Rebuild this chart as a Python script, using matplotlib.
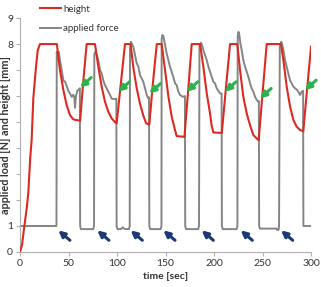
import matplotlib
matplotlib.use('Agg')
import matplotlib.pyplot as plt

plt.rcParams['font.family'] = ['Lato', 'DejaVu Sans']

# height curve [mm]
height_t = [0, 2, 4.5, 7, 8.6, 10.5, 12, 13.7, 16.2, 18.2, 20.6, 38,
            41.2, 44.7, 48.1, 51.5, 55, 62, 65.3, 68.7, 77.3,
            80.7, 84.2, 87.6, 91, 94.5, 97.9, 99.6, 104, 108.2, 114,
            116.8, 120.3, 123.7, 127.1, 130, 133.3, 137, 141, 146,
            149.5, 153, 156.4, 159.8, 161.5, 169.5, 173.5, 177, 185.6,
            189, 192.5, 195.9, 197.6, 199.3, 208, 212, 216.5, 224,
            226.8, 230.2, 233.7, 237.1, 240.5, 244, 246, 250, 254.3, 269,
            271.5, 274.9, 278.4, 281.8, 285.2, 288.7, 292, 296, 300]
height_v = [0, 0.25, 1.0, 1.7, 2.3, 3.6, 4.3, 5.9, 7.0, 7.75, 8.0, 8.0,
            7.0, 6.23, 5.65, 5.27, 5.1, 5.05, 6.6, 8.0, 8.0,
            7.13, 6.36, 5.78, 5.4, 5.14, 5.0, 4.95, 6.5, 8.0, 8.0,
            7.1, 6.3, 5.7, 5.25, 4.95, 4.9, 6.5, 8.0, 8.0,
            7.0, 5.97, 5.2, 4.69, 4.46, 4.43, 6.3, 8.0, 8.0,
            7.13, 6.1, 5.33, 4.85, 4.6, 4.58, 6.2, 8.0, 8.0,
            7.0, 5.97, 5.33, 4.88, 4.5, 4.37, 4.3, 6.1, 8.0, 8.0,
            7.38, 6.36, 5.59, 5.08, 4.82, 4.69, 4.65, 6.3, 7.9]

# applied force [N]
force_t = [0, 37.6,
           37.9, 39, 40, 41.5, 43, 44.7, 46.4, 48, 49.8, 51.5, 53.3, 55, 56, 56.7, 57.7, 59.1, 60.5, 61.7,
           62, 62.8, 75.5, 76.3,
           76.6, 77.5, 79, 80.7, 82.5, 84.2, 85.9, 87.6, 89.3, 91, 92.7, 94.5, 97.9, 99.3,
           99.6, 100.4, 104, 106, 108, 112.3, 113.1,
           113.4, 114.3, 115.1, 116.8, 118.6, 120.3, 122, 123.7, 125.4, 127.1, 128.9, 130.6, 132.3, 133,
           133.3, 134.1, 145, 145.8,
           146, 146.8, 147.8, 149.5, 151.2, 152.9, 154.6, 156.4, 158, 159.8, 161.5, 163.2, 165, 167.7, 170,
           170.3, 171.1, 183.7, 184.5,
           185, 186.3, 187.3, 189, 190.7, 192.5, 194.2, 195.9, 197.6, 199.3, 201, 202.8, 204.5, 206.2, 207.8,
           208.1, 208.9, 223.3, 224.1,
           224.4, 225.2, 226.1, 227.1, 228.5, 230.2, 232, 233.7, 235.4, 237.1, 238.9, 240.5, 242.3, 244, 245.7, 246.2,
           246.5, 247.3, 264.5, 265, 266.5, 267,
           267.8, 269.2, 269.8, 271.5, 273.2, 274.9, 276.6, 278.4, 280, 281.8, 283.5, 285.2, 286.9, 288.7, 290.4, 291.8,
           292.1, 300]
force_v = [1.0, 1.0,
           7.7, 7.4, 7.7, 7.3, 7.0, 6.6, 6.55, 6.4, 6.2, 6.1, 5.97, 6.05, 5.95, 5.55, 6.0, 6.2, 6.25, 6.3,
           1.0, 0.88, 0.88, 1.0,
           7.6, 7.7, 7.6, 7.38, 7.0, 6.87, 6.6, 6.42, 6.3, 6.17, 6.05, 5.9, 5.88, 5.9,
           1.0, 0.88, 0.88, 0.95, 0.88, 0.88, 1.0,
           7.8, 8.09, 8.03, 7.9, 7.58, 7.26, 7.13, 6.8, 6.68, 6.55, 6.3, 6.04, 5.91, 5.95,
           1.0, 0.88, 0.88, 1.0,
           8.2, 8.35, 8.3, 7.96, 7.64, 7.38, 7.13, 6.93, 6.74, 6.49, 6.42, 6.17, 6.04, 5.97, 6.0,
           1.0, 0.88, 0.88, 1.0,
           7.9, 8.05, 8.0, 7.77, 7.58, 7.38, 7.13, 6.93, 6.74, 6.55, 6.49, 6.29, 6.2, 6.1, 6.1,
           1.0, 0.88, 0.88, 1.0,
           8.3, 8.47, 8.35, 8.03, 7.77, 7.38, 7.13, 6.93, 6.74, 6.49, 6.29, 6.17, 5.97, 5.85, 5.78, 5.8,
           1.0, 0.9, 0.9, 0.85, 0.85, 1.0,
           7.9, 8.09, 8.05, 7.77, 7.38, 7.13, 6.87, 6.6, 6.49, 6.36, 6.3, 6.25, 6.17, 6.04, 6.17, 6.2,
           1.0, 1.0]

# arrow tips
green_t = [61.9, 101.4, 133.3, 171.8, 211.3, 247.4, 293.8]
green_v = [6.33, 6.17, 6.1, 6.17, 6.17, 5.91, 6.23]
blue_t = [39.5, 79.7, 114.1, 147.8, 187.3, 227.5, 269.1]
blue_v = [0.83] * 7

yticks = [0, 1, 2, 3, 4, 5, 6, 7, 8, 9]
ytick_labels = ['0', '1', '', '', '', '', '', '', '8', '9']

fig = plt.figure(figsize=(3.21, 2.87), dpi=100)
ax = fig.add_axes([0.0623, 0.122, 0.9067, 0.815])

red = '#dc2a22'
gray = '#858585'
ax.plot(height_t, height_v, color=red, lw=1.5, label='height', zorder=3)
ax.plot(force_t, force_v, color=gray, lw=1.4, label='applied force', zorder=2)

for t, v in zip(green_t, green_v):
    ax.annotate('', xy=(t, v), xytext=(t + 11.5, v + 0.38),
                arrowprops=dict(arrowstyle='-|>', color='#2ab34a', lw=2.2,
                                mutation_scale=9, shrinkA=0, shrinkB=0), zorder=4)
for t, v in zip(blue_t, blue_v):
    ax.annotate('', xy=(t, v), xytext=(t + 12, v - 0.38),
                arrowprops=dict(arrowstyle='-|>', color='#1c3a72', lw=2.2,
                                mutation_scale=9, shrinkA=0, shrinkB=0), zorder=4)

ax.set_xlim(0, 300)
ax.set_ylim(0, 9)
ax.set_xticks([0, 50, 100, 150, 200, 250, 300])
ax.set_yticks(yticks)
ax.set_yticklabels(ytick_labels)

for s in ['top', 'right']:
    ax.spines[s].set_visible(False)
for s in ['left', 'bottom']:
    ax.spines[s].set_color('#b0b0b0')
    ax.spines[s].set_linewidth(0.8)
ax.tick_params(colors='#b0b0b0', labelcolor='#333333', labelsize=7.5, length=3, width=0.8, pad=2)

ax.set_xlabel('time [sec]', fontsize=7.5, fontweight='bold', color='#333333', labelpad=3)
ax.set_ylabel('applied load [N] and height [mm]', fontsize=7.8, fontweight='bold',
              color='#333333', labelpad=-3)

leg = ax.legend(loc='upper left', bbox_to_anchor=(0.069, 1.058), frameon=False,
                fontsize=7, handlelength=2.2, labelspacing=1.1, handletextpad=0.2,
                borderaxespad=0, borderpad=0)
for txt in leg.get_texts():
    txt.set_color('#333333')

fig.savefig('out.png', dpi=100)
